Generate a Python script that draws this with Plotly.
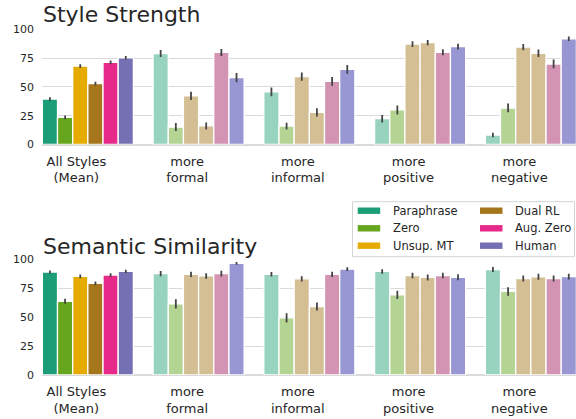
import plotly.graph_objects as go

# ---- data -------------------------------------------------------------
categories = ["All Styles<br>(Mean)", "more<br>formal", "more<br>informal",
              "more<br>positive", "more<br>negative"]
methods = ["Paraphrase", "Zero", "Unsup. MT", "Dual RL", "Aug. Zero", "Human"]

# Style strength (%), rows = methods, columns = categories
strength = {
    "Paraphrase": [39.4, 79.0, 45.6, 22.4, 8.2],
    "Zero":       [23.5, 15.2, 16.0, 30.0, 31.7],
    "Unsup. MT":  [68.1, 42.2, 58.9, 87.2, 84.6],
    "Dual RL":    [52.8, 16.1, 27.9, 88.4, 79.2],
    "Aug. Zero":  [71.3, 79.9, 54.8, 80.0, 69.9],
    "Human":      [75.3, 58.0, 65.3, 84.9, 91.8],
}
strength_err = {
    "Paraphrase": [1.6, 3.0, 3.8, 3.3, 2.0],
    "Zero":       [1.6, 3.5, 2.9, 3.9, 3.8],
    "Unsup. MT":  [1.6, 3.6, 3.6, 2.5, 2.7],
    "Dual RL":    [1.6, 3.0, 3.5, 2.3, 3.2],
    "Aug. Zero":  [1.6, 3.0, 3.9, 2.6, 3.8],
    "Human":      [1.6, 4.0, 3.8, 2.5, 2.0],
}

# Semantic similarity (%)
similarity = {
    "Paraphrase": [89.0, 87.6, 87.1, 89.5, 91.2],
    "Zero":       [63.7, 61.4, 49.4, 69.3, 72.2],
    "Unsup. MT":  [85.3, 87.0, 83.1, 86.0, 83.4],
    "Dual RL":    [79.2, 85.6, 59.2, 84.3, 84.9],
    "Aug. Zero":  [86.4, 87.6, 86.9, 86.0, 83.4],
    "Human":      [89.6, 96.5, 91.5, 84.5, 85.1],
}
similarity_err = {
    "Paraphrase": [1.4, 2.3, 2.0, 1.9, 2.2],
    "Zero":       [2.2, 4.0, 4.0, 3.6, 3.7],
    "Unsup. MT":  [1.6, 2.3, 2.2, 2.3, 2.6],
    "Dual RL":    [1.6, 2.4, 3.5, 2.6, 2.6],
    "Aug. Zero":  [1.6, 2.4, 2.3, 2.3, 2.6],
    "Human":      [1.4, 1.2, 1.7, 2.6, 2.5],
}

y_ticks = [0, 25, 50, 75, 100]

# ---- styling ----------------------------------------------------------
dark = {"Paraphrase": "#1b9e77", "Zero": "#66a61e", "Unsup. MT": "#e6ab02",
        "Dual RL": "#a6761d", "Aug. Zero": "#e7298a", "Human": "#7570b3"}
light = {"Paraphrase": "#97d3bf", "Zero": "#b4d494", "Unsup. MT": "#d3bf93",
         "Dual RL": "#d3bf93", "Aug. Zero": "#d393b3", "Human": "#9896d3"}

W, H = 576, 419
FONT = "DejaVu Sans"
TXT = "#262626"
GRID = "#dadada"
slot = 0.137          # width of one bar in category units
label_shift = 0.104   # tick labels sit slightly left of the bar group centre

fig = go.Figure()


def add_panel(values, errors, xa, ya):
    n = len(methods)
    for j, m in enumerate(methods):
        xs = [i + (j - (n - 1) / 2) * slot for i in range(len(categories))]
        cols = [dark[m]] + [light[m]] * (len(categories) - 1)
        fig.add_trace(go.Bar(
            x=xs, y=values[m], width=slot, name=m, showlegend=False,
            marker=dict(color=cols, line=dict(color="white", width=1.3)),
            error_y=dict(type="data", array=errors[m], color="#444444",
                         thickness=1.8, width=0),
            xaxis=xa, yaxis=ya,
        ))


add_panel(strength, strength_err, "x", "y")
add_panel(similarity, similarity_err, "x2", "y2")

x0 = -3 * slot - 0.003
x1 = x0 + (W - 42) / 110.75
tickvals = [i - label_shift for i in range(len(categories))]

xcommon = dict(range=[x0, x1], domain=[42 / W, 1], tickmode="array",
               tickvals=tickvals, ticktext=categories, showgrid=False,
               zeroline=False, showline=False, ticks="", automargin=False,
               tickfont=dict(family=FONT, size=13, color=TXT),
               ticklabelstandoff=7)
ycommon = dict(range=[0, 100], tickmode="array", tickvals=y_ticks,
               showgrid=True, gridcolor=GRID, gridwidth=1.3,
               zeroline=True, zerolinecolor=GRID, zerolinewidth=2,
               showline=False, ticks="", automargin=False,
               tickfont=dict(family=FONT, size=11, color=TXT),
               ticklabelstandoff=7)

fig.update_layout(
    width=W, height=H,
    margin=dict(l=0, r=0, t=0, b=0, pad=0, autoexpand=False),
    paper_bgcolor="white", plot_bgcolor="white", barmode="overlay",
    showlegend=False,
    xaxis=dict(**xcommon, anchor="y"),
    xaxis2=dict(**xcommon, anchor="y2"),
    yaxis=dict(**ycommon, domain=[1 - 144.5 / H, 1 - 29.3 / H], anchor="x"),
    yaxis2=dict(**ycommon, domain=[1 - 375 / H, 1 - 259.3 / H], anchor="x2"),
)

# panel titles
for text, ypx in [("Style Strength", 15), ("Semantic Similarity", 246)]:
    fig.add_annotation(text=text, xref="paper", yref="paper",
                       x=41 / W, y=1 - ypx / H, xanchor="left", yanchor="middle",
                       showarrow=False,
                       font=dict(family=FONT, size=22, color=TXT))

# legend box
def px(x, y):
    return x / W, 1 - y / H

lx0, ly0 = px(352.5, 201.7)
lx1, ly1 = px(574.5, 256.7)
fig.add_shape(type="rect", xref="paper", yref="paper", x0=lx0, y0=ly1,
              x1=lx1, y1=ly0, line=dict(color="#d4d4d4", width=1),
              fillcolor="white", layer="above")

rows_y = [210.7, 228.3, 245.7]
col_x = [(357.7, 390.7), (480.0, 512.7)]
for k, m in enumerate(methods):
    c, r = divmod(k, 3)
    sx, tx = col_x[c]
    yc = rows_y[r]
    a, b = px(sx, yc - 3.2)
    a2, b2 = px(sx + 22.5, yc + 3.2)
    fig.add_shape(type="rect", xref="paper", yref="paper", x0=a, y0=b2,
                  x1=a2, y1=b, line=dict(width=0), fillcolor=dark[m],
                  layer="above")
    tx_, ty_ = px(tx, yc)
    fig.add_annotation(text=m, xref="paper", yref="paper", x=tx_, y=ty_,
                       xanchor="left", yanchor="middle", showarrow=False,
                       font=dict(family=FONT, size=11.5, color=TXT))

fig.write_html("out.html")
